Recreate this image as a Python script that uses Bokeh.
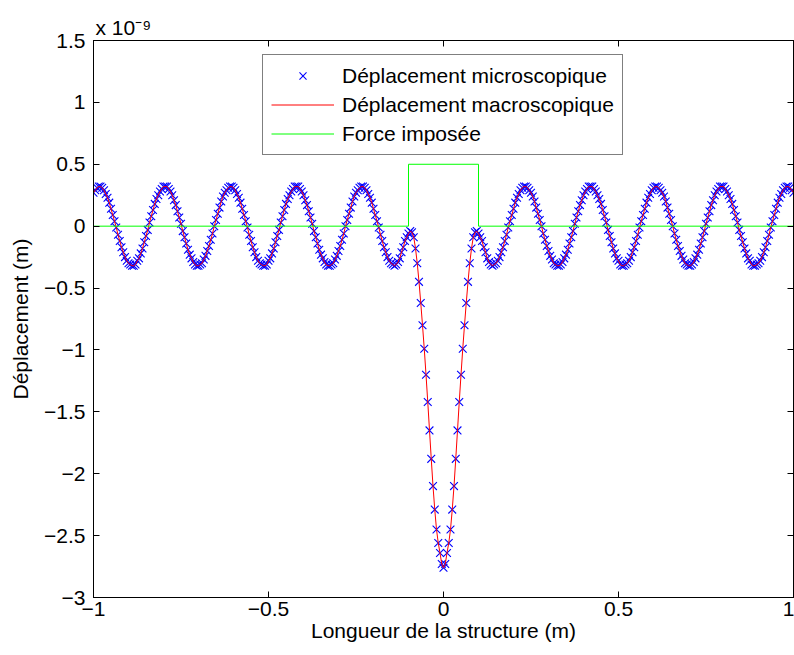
import numpy as np
from bokeh.plotting import figure
from bokeh.models import Range1d, FixedTicker, LinearAxis, Legend, LegendItem, Title
from bokeh.embed import file_html
from bokeh.resources import INLINE

FONT = "Liberation Sans"

x_ticks = [-1, -0.5, 0, 0.5, 1]
x_tick_labels = ["\u22121", "\u22120.5", "0", "0.5", "1"]
y_ticks = [-3, -2.5, -2, -1.5, -1, -0.5, 0, 0.5, 1, 1.5]
y_tick_labels = ["\u22123", "\u22122.5", "\u22122", "\u22121.5", "\u22121", "\u22120.5", "0", "0.5", "1", "1.5"]
y_scale_text = "x 10\u207b\u2079"

series_names = ["D\u00e9placement microscopique", "D\u00e9placement macroscopique", "Force impos\u00e9e"]

# imposed force (step on [-0.1, 0.1]), in units of 1e-9
force_x = [-1, -0.1, -0.1, 0.1, 0.1, 1]
force_y = [0, 0, 0.5, 0.5, 0, 0]

# displacement (units of 1e-9 m), sampled every 0.005 m from -1 to 1
micro_disp = [
    0.27, 0.29, 0.31, 0.32, 0.32, 0.31, 0.29, 0.26, 0.23, 0.19, 0.14, 0.09, 0.04, -0.01, -0.07, -0.12, -0.17, -0.21, -0.25, -0.28, -0.30, -0.31,
    -0.32, -0.32, -0.31, -0.28, -0.26, -0.22, -0.18, -0.13, -0.08, -0.03,
    0.03, 0.08, 0.13, 0.18, 0.22, 0.25, 0.28, 0.30, 0.32, 0.32,
    0.32, 0.30, 0.28, 0.25, 0.21, 0.17, 0.12, 0.07, 0.02, -0.04,
    -0.09, -0.14, -0.19, -0.23, -0.26, -0.29, -0.31, -0.32, -0.32, -0.31,
    -0.30, -0.27, -0.24, -0.20, -0.16, -0.11, -0.06, 0.00, 0.05, 0.10,
    0.15, 0.20, 0.24, 0.27, 0.29, 0.31, 0.32, 0.32, 0.31, 0.29,
    0.26, 0.23, 0.19, 0.14, 0.09, 0.04, -0.01, -0.07, -0.12, -0.17,
    -0.21, -0.25, -0.28, -0.30, -0.31,
    -0.32, -0.32, -0.31, -0.28, -0.26, -0.22, -0.18, -0.13, -0.08, -0.03,
    0.03, 0.08, 0.13, 0.18, 0.22, 0.25, 0.28, 0.30, 0.32, 0.32,
    0.32, 0.30, 0.28, 0.25, 0.21, 0.17, 0.12, 0.07, 0.02, -0.04,
    -0.09, -0.14, -0.19, -0.23, -0.26, -0.29, -0.31, -0.32, -0.32, -0.31,
    -0.30, -0.27, -0.24, -0.20, -0.16, -0.11, -0.06, 0.00, 0.05, 0.10,
    0.15, 0.20, 0.24, 0.27, 0.29, 0.31, 0.32, 0.32, 0.31, 0.29,
    0.26, 0.23, 0.19, 0.14, 0.09, 0.04, -0.01, -0.07, -0.12, -0.17,
    -0.21, -0.25, -0.28, -0.30, -0.31,
    -0.32, -0.31, -0.29, -0.26, -0.21, -0.17, -0.12, -0.09, -0.06, -0.04,
    -0.05, -0.09, -0.18, -0.30, -0.45, -0.62, -0.80, -0.99, -1.20, -1.42,
    -1.65, -1.88, -2.10, -2.29, -2.45, -2.56, -2.64, -2.73, -2.76,
    -2.73, -2.64, -2.56, -2.45, -2.29, -2.10, -1.88, -1.65, -1.42, -1.20,
    -0.99, -0.80, -0.62, -0.45, -0.30, -0.18, -0.09, -0.05, -0.04, -0.06,
    -0.09, -0.12, -0.17, -0.21, -0.26, -0.29, -0.31, -0.32,
    -0.31, -0.30, -0.28, -0.25, -0.21, -0.17, -0.12, -0.07, -0.01, 0.04,
    0.09, 0.14, 0.19, 0.23, 0.26, 0.29, 0.31, 0.32, 0.32, 0.31,
    0.29, 0.27, 0.24, 0.20, 0.15, 0.10, 0.05, 0.00, -0.06, -0.11,
    -0.16, -0.20, -0.24, -0.27, -0.30, -0.31, -0.32, -0.32, -0.31, -0.29,
    -0.26, -0.23, -0.19, -0.14, -0.09, -0.04, 0.02, 0.07, 0.12, 0.17,
    0.21, 0.25, 0.28, 0.30, 0.32, 0.32, 0.32, 0.30, 0.28, 0.25,
    0.22, 0.18, 0.13, 0.08, 0.03, -0.03, -0.08, -0.13, -0.18, -0.22,
    -0.26, -0.28, -0.31, -0.32, -0.32,
    -0.31, -0.30, -0.28, -0.25, -0.21, -0.17, -0.12, -0.07, -0.01, 0.04,
    0.09, 0.14, 0.19, 0.23, 0.26, 0.29, 0.31, 0.32, 0.32, 0.31,
    0.29, 0.27, 0.24, 0.20, 0.15, 0.10, 0.05, 0.00, -0.06, -0.11,
    -0.16, -0.20, -0.24, -0.27, -0.30, -0.31, -0.32, -0.32, -0.31, -0.29,
    -0.26, -0.23, -0.19, -0.14, -0.09, -0.04, 0.02, 0.07, 0.12, 0.17,
    0.21, 0.25, 0.28, 0.30, 0.32, 0.32, 0.32, 0.30, 0.28, 0.25,
    0.22, 0.18, 0.13, 0.08, 0.03, -0.03, -0.08, -0.13, -0.18, -0.22,
    -0.26, -0.28, -0.31, -0.32, -0.32,
    -0.31, -0.30, -0.28, -0.25, -0.21, -0.17, -0.12, -0.07, -0.01, 0.04, 0.09, 0.14, 0.19, 0.23, 0.26, 0.29, 0.31, 0.32, 0.32, 0.31, 0.29, 0.27,
]
# the macroscopic field follows the microscopic one on the same sampling
macro_disp = list(micro_disp)
x_pos = np.linspace(-1, 1, len(micro_disp))

FS = "21px"

p = figure(width=794, height=655, output_backend="svg", toolbar_location=None,
           x_range=Range1d(-1, 1), y_range=Range1d(-3, 1.5),
           min_border_left=93, min_border_right=1, min_border_top=40, min_border_bottom=58)
p.background_fill_color = "white"
p.border_fill_color = "white"
p.outline_line_color = "black"
p.outline_line_width = 1
p.outline_line_alpha = 1
p.xgrid.visible = False
p.ygrid.visible = False

def style_axis(ax, ticks, labels, show_labels=True):
    ax.ticker = FixedTicker(ticks=ticks, minor_ticks=[])
    ax.major_label_overrides = {float(t): s for t, s in zip(ticks, labels)}
    ax.major_tick_in = 6
    ax.major_tick_out = 0
    ax.minor_tick_in = 0
    ax.minor_tick_out = 0
    ax.axis_line_color = "black"
    ax.major_tick_line_color = "black"
    ax.major_label_text_font = FONT
    ax.axis_label_text_font = FONT
    ax.axis_label_text_font_size = FS
    ax.axis_label_text_font_style = "normal"
    ax.axis_label_text_color = "black"
    if show_labels:
        ax.major_label_text_font_size = FS
        ax.major_label_text_color = "black"
    else:
        ax.major_label_text_font_size = "1px"
        ax.major_label_text_color = None
        ax.major_label_standoff = 0

xa = p.below[0]
ya = p.left[0]
style_axis(xa, x_ticks, x_tick_labels)
style_axis(ya, y_ticks, y_tick_labels)
xa.axis_label = "Longueur de la structure (m)"
ya.axis_label = "D\u00e9placement (m)"
xa.major_label_standoff = 4
ya.major_label_standoff = 8
xa.axis_label_standoff = 0
ya.axis_label_standoff = 9

top_ax = LinearAxis()
style_axis(top_ax, x_ticks, x_tick_labels, show_labels=False)
p.add_layout(top_ax, "above")
right_ax = LinearAxis()
style_axis(right_ax, y_ticks, y_tick_labels, show_labels=False)
p.add_layout(right_ax, "right")

r_micro = p.scatter(x_pos, micro_disp, marker="x", size=11, line_color="#0000ff", line_width=1.1)
r_macro = p.line(x_pos, macro_disp, line_color="#ff0000", line_width=1)
r_force = p.line(force_x, force_y, line_color="#00ff00", line_width=1)

legend = Legend(items=[LegendItem(label=series_names[0], renderers=[r_micro]),
                       LegendItem(label=series_names[1], renderers=[r_macro]),
                       LegendItem(label=series_names[2], renderers=[r_force])],
                location=(169, 442))
legend.border_line_color = "black"
legend.border_line_width = 1
legend.background_fill_color = "white"
legend.background_fill_alpha = 1
legend.label_text_font = FONT
legend.label_text_font_size = FS
legend.label_text_color = "black"
legend.glyph_width = 63
legend.glyph_height = 25
legend.label_height = 25
legend.spacing = 4
legend.padding = 8
legend.margin = 0
legend.label_standoff = 8
p.add_layout(legend)

p.add_layout(Title(text=y_scale_text, align="left", offset=2, standoff=4,
                   text_font=FONT, text_font_size=FS, text_font_style="normal",
                   text_color="black"), "above")

open("out.html", "w").write(file_html(p, INLINE))
